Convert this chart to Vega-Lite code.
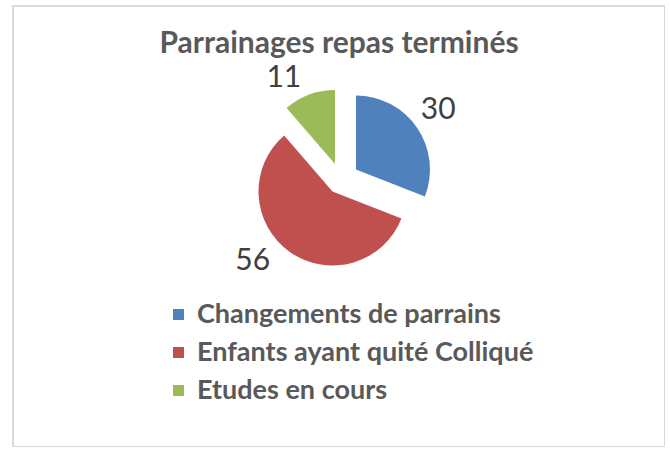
{
  "$schema": "https://vega.github.io/schema/vega-lite/v6.json",
  "width": 652,
  "height": 441,
  "autosize": {"type": "none"},
  "padding": {"left": 13, "top": 6, "right": 0, "bottom": 0},
  "background": "white",
  "view": {"stroke": "#D9D9D9", "strokeWidth": 2, "fill": "white"},
  "config": {
    "view": {"stroke": "#D9D9D9", "strokeWidth": 2},
    "font": "Lato"
  },
  "title": {
    "text": "Parrainages repas terminés",
    "orient": "top",
    "anchor": "middle",
    "frame": "group",
    "offset": -46,
    "dy": 31,
    "baseline": "alphabetic",
    "font": "Lato",
    "fontSize": 30,
    "fontWeight": "bold",
    "color": "#595959"
  },
  "data": {
    "values": [
      {"cat": "Changements de parrains", "value": 30},
      {"cat": "Enfants ayant quité Colliqué", "value": 56},
      {"cat": "Etudes en cours", "value": 11}
    ]
  },
  "encoding": {
    "theta": {"field": "value", "type": "quantitative", "stack": true},
    "order": {"field": "cat", "type": "ordinal"}
  },
  "layer": [
    {
      "mark": {"type": "arc", "outerRadius": 74, "xOffset": 17, "yOffset": -57},
      "encoding": {
        "color": {
          "field": "cat", "type": "nominal",
          "scale": {"domain": ["Changements de parrains", "Enfants ayant quité Colliqué", "Etudes en cours"], "range": ["#4F81BD", "#C0504D", "#9BBB59"]},
          "legend": {
            "title": null, "orient": "none", "legendX": 152, "legendY": 295,
            "symbolType": "square", "symbolSize": 121, "symbolStrokeWidth": 0,
            "labelFont": "Lato", "labelFontSize": 27, "labelFontWeight": "bold",
            "labelColor": "#595959", "labelLimit": 600, "rowPadding": 10, "labelOffset": 5
          }
        },
        "opacity": {"condition": {"test": "datum.cat === 'Changements de parrains'", "value": 1}, "value": 0}
      }
    },
    {
      "mark": {"type": "arc", "outerRadius": 74, "xOffset": -6.5, "yOffset": -35},
      "encoding": {
        "color": {"field": "cat", "type": "nominal"},
        "opacity": {"condition": {"test": "datum.cat === 'Enfants ayant quité Colliqué'", "value": 1}, "value": 0}
      }
    },
    {
      "mark": {"type": "arc", "outerRadius": 74, "xOffset": -4, "yOffset": -62.5},
      "encoding": {
        "color": {"field": "cat", "type": "nominal"},
        "opacity": {"condition": {"test": "datum.cat === 'Etudes en cours'", "value": 1}, "value": 0}
      }
    },
    {
      "mark": {"type": "text", "radius": 119, "fontSize": 30, "font": "Lato", "color": "#404040", "baseline": "middle", "align": "center", "xOffset": 1, "yOffset": -49},
      "encoding": {
        "detail": {"field": "cat", "type": "nominal"},
        "text": {"condition": {"test": "datum.cat === 'Changements de parrains'", "field": "value", "type": "quantitative"}, "value": ""}
      }
    },
    {
      "mark": {"type": "text", "radius": 120, "fontSize": 30, "font": "Lato", "color": "#404040", "baseline": "middle", "align": "center", "xOffset": -17, "yOffset": -63.5},
      "encoding": {
        "detail": {"field": "cat", "type": "nominal"},
        "text": {"condition": {"test": "datum.cat === 'Enfants ayant quité Colliqué'", "field": "value", "type": "quantitative"}, "value": ""}
      }
    },
    {
      "mark": {"type": "text", "radius": 118, "fontSize": 30, "font": "Lato", "color": "#404040", "baseline": "middle", "align": "center", "xOffset": -14, "yOffset": -37.5},
      "encoding": {
        "detail": {"field": "cat", "type": "nominal"},
        "text": {"condition": {"test": "datum.cat === 'Etudes en cours'", "field": "value", "type": "quantitative"}, "value": ""}
      }
    }
  ]
}
